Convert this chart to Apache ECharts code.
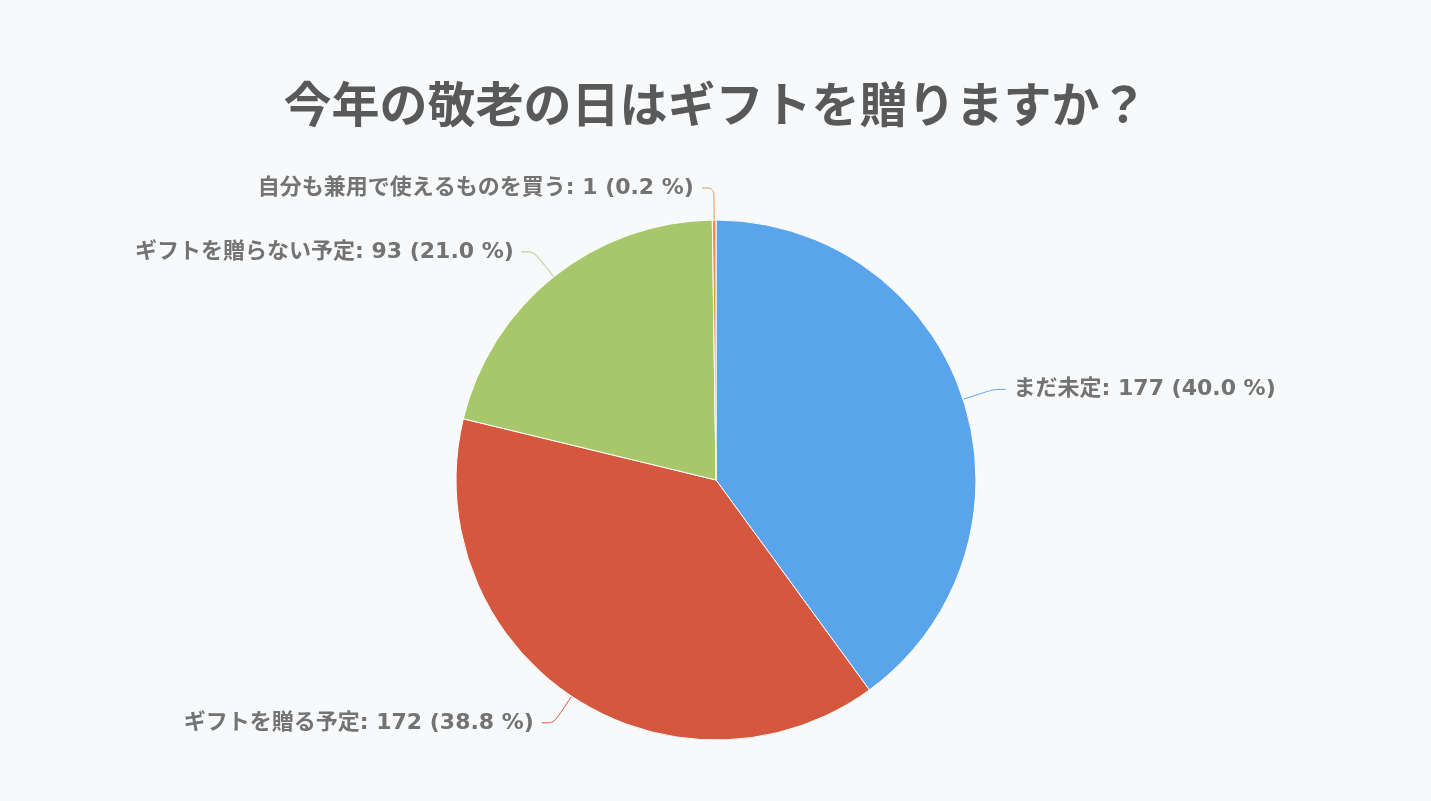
<!DOCTYPE html>
<html>
<head>
<meta charset="utf-8">
<script src="https://cdn.jsdelivr.net/npm/echarts@6/dist/echarts.min.js"></script>
<style>
	html, body { margin: 0; padding: 0; background: #f7f9fb; }
	#chart { width: 1431px; height: 801px; }
</style>
</head>
<body>
<div id="chart"></div>
<script>
	/*データ*/
	var titleText = '今年の敬老の日はギフトを贈りますか？';
	var categories = ['まだ未定', 'ギフトを贈る予定', 'ギフトを贈らない予定', '自分も兼用で使えるものを買う'];
	var counts = [177, 172, 93, 1];
	var colors = ['#5aa4ec', '#d4573e', '#a8c76b', '#ec8f4a'];

	var total = counts.reduce(function (a, b) { return a + b; }, 0);
	var pieData = categories.map(function (name, i) {
		return { name: name, value: counts[i], itemStyle: { color: colors[i] }, labelLine: { lineStyle: { color: colors[i] } } };
	});

	var myChart = echarts.init(document.getElementById('chart'));
	myChart.setOption({
		backgroundColor: '#f7f9fb',
		animation: false,
		title: {
			text: titleText,
			left: 'center',
			top: 75,
			textStyle: {
				fontFamily: 'Noto Sans CJK JP',
				fontSize: 48,
				fontWeight: 'bold',
				color: '#595959'
			}
		},
		series: [{
			type: 'pie',
			center: [716, 480],
			radius: 260,
			startAngle: 90,
			clockwise: true,
			data: pieData,
			itemStyle: { borderColor: '#ffffff', borderWidth: 1 },
			label: {
				show: true,
				fontFamily: '"DejaVu Sans", "Noto Sans CJK JP"',
				fontSize: 22,
				fontWeight: 'bold',
				color: '#737373',
				distanceToLabelLine: 8,
				formatter: function (p) {
					return p.name + ': ' + p.value + ' (' + (p.value / total * 100).toFixed(1) + ' %)';
				}
			},
			labelLine: {
				show: true,
				length: 32,
				length2: 12,
				smooth: true,
				lineStyle: { width: 1 }
			}
		}]
	});
</script>
</body>
</html>
